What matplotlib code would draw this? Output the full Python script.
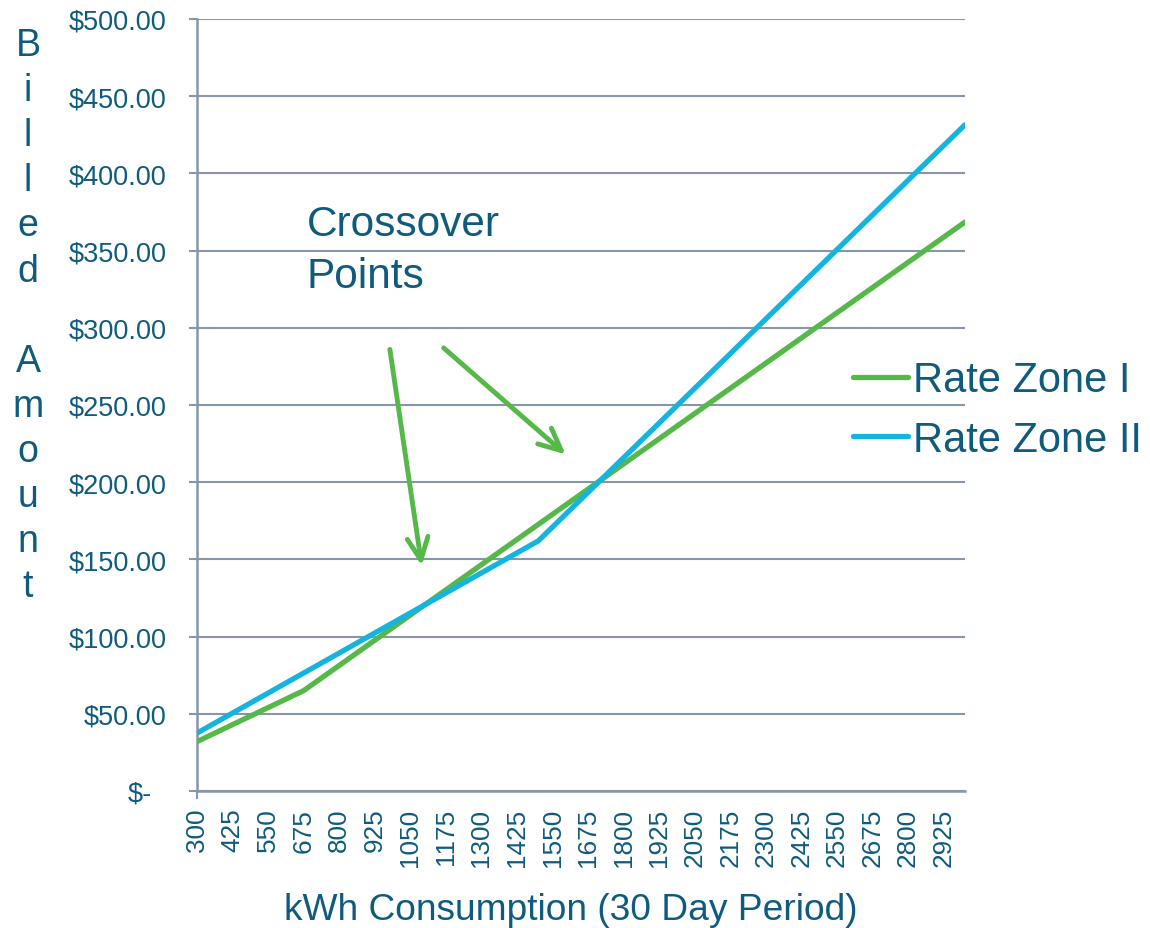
import matplotlib
matplotlib.use('Agg')
import matplotlib.pyplot as plt
import matplotlib.transforms as mtransforms
import numpy as np

plt.rcParams['font.family'] = ['Liberation Sans', 'DejaVu Sans']

# kWh breakpoints and billed amounts
zone1_kwh = [300, 675, 3000]
zone1_bill = [32.0, 65.0, 368.5]
zone2_kwh = [300, 1500, 3000]
zone2_bill = [37.5, 162.0, 431.5]

x_ticks = list(range(300, 3000, 125))
y_ticks = [0, 50, 100, 150, 200, 250, 300, 350, 400, 450, 500]
y_labels = ['$-', '$50.00', '$100.00', '$150.00', '$200.00', '$250.00',
            '$300.00', '$350.00', '$400.00', '$450.00', '$500.00']

text_col = '#0e5b7e'
grid_col = '#8797aa'
green = '#55b848'
blue = '#14b4e0'

fig = plt.figure(figsize=(11.5, 9.29), dpi=100)
ax = fig.add_axes([197 / 1150, 137 / 929, 768 / 1150, 772 / 929])

ax.plot(zone1_kwh, zone1_bill, color=green, lw=3.8, solid_capstyle='round',
        solid_joinstyle='round', label='Rate Zone I', zorder=3)
ax.plot(zone2_kwh, zone2_bill, color=blue, lw=3.8, solid_capstyle='round',
        solid_joinstyle='round', label='Rate Zone II', zorder=3)

ax.set_xlim(300, 3000)
ax.set_ylim(0, 500)
ax.set_yticks(y_ticks)
ax.set_yticklabels(y_labels)
ax.set_xticks(x_ticks)
ax.set_xticklabels([str(v) for v in x_ticks], rotation=90)

ax.grid(axis='y', color=grid_col, lw=1.5)
ax.set_axisbelow(True)
for s in ['top', 'right']:
    ax.spines[s].set_visible(False)
for s in ['left', 'bottom']:
    ax.spines[s].set_color(grid_col)
    ax.spines[s].set_linewidth(1.8)

ax.tick_params(axis='y', length=6, width=1.5, color=grid_col, pad=16,
               labelsize=19.5, labelcolor=text_col)
ax.tick_params(axis='x', length=6, width=1.5, color=grid_col, pad=6,
               labelsize=18.8, labelcolor=text_col)
for t in ax.xaxis.get_major_ticks()[1:]:
    t.tick1line.set_visible(False)

# "$-" sits further left in the original
lab0 = ax.get_yticklabels()[0]
lab0.set_transform(lab0.get_transform() +
                   mtransforms.ScaledTranslation(-0.14, 0, fig.dpi_scale_trans))

# annotation
fig.text(307 / 1150, 1 - 205 / 929, 'Crossover\nPoints', fontsize=30.5,
         color=text_col, va='top', ha='left', linespacing=1.38)
arrow_kw = dict(arrowstyle='->,head_length=1.6,head_width=0.75', color=green,
                lw=3.5, shrinkA=0, shrinkB=0)
ax.annotate('', xy=(1090, 146), xytext=(978, 286), arrowprops=arrow_kw)
ax.annotate('', xy=(1596, 218), xytext=(1167, 287), arrowprops=arrow_kw)

# stacked y label
fig.text(28 / 1150, 1 - 28 / 929, 'B\ni\nl\nl\ne\nd\n\nA\nm\no\nu\nn\nt',
         fontsize=27, color=text_col, ha='center', va='top',
         multialignment='center', linespacing=1.325)

fig.text(571 / 1150, 1 - 920 / 929, 'kWh Consumption (30 Day Period)',
         fontsize=26.7, color=text_col, ha='center', va='baseline')

fig.legend(loc='center left', bbox_to_anchor=(853 / 1150, 1 - 411 / 929),
           frameon=False, fontsize=30, labelcolor=text_col, borderpad=0,
           borderaxespad=0, handlelength=1.32, handletextpad=0.12,
           labelspacing=0.47)

fig.savefig('out.png', dpi=100)
